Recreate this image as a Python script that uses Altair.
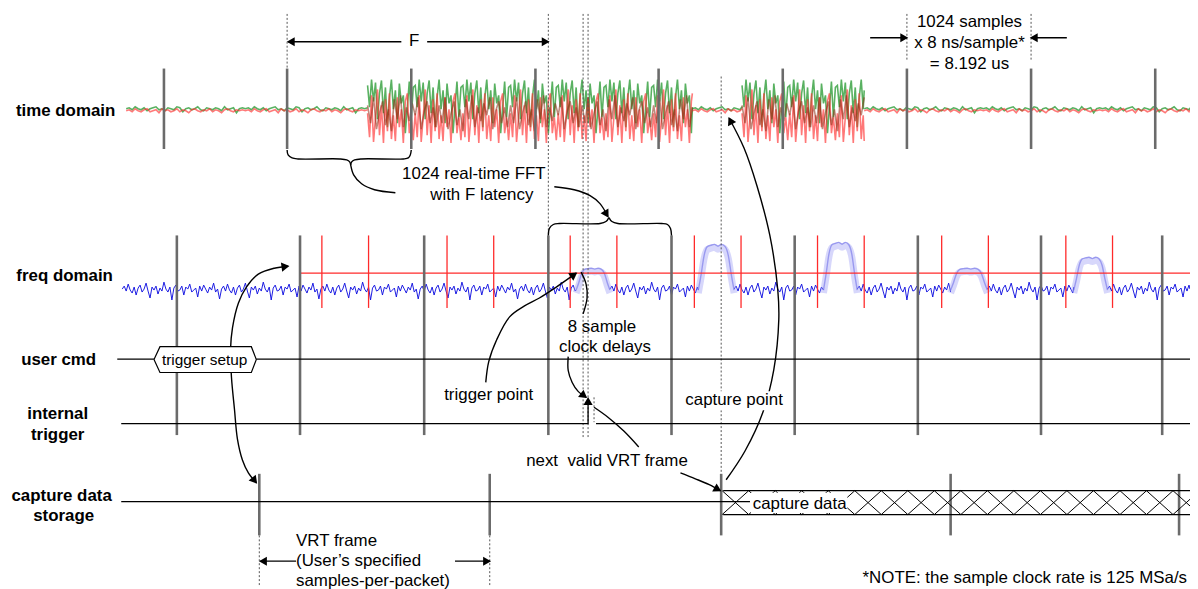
import math
import altair as alt
import pandas as pd

# ---------------- data (pixel coordinates of the diagram) ----------------
row_labels = ["time domain", "freq domain", "user cmd", "internal", "trigger", "capture data", "storage"]
row_label_x = [66, 65, 59, 58, 58, 62, 64]
row_label_y = [110, 276, 360, 415, 436, 497, 518]

time_bar_x = [165, 289, 414, 539, 663, 788, 913, 1038, 1163]
time_bar_y = [67, 148]
freq_bar_x = [178, 302, 427, 552, 676, 800, 924, 1048, 1170]
freq_bar_y = [235, 436]
store_bar_x = [261, 493, 726, 957, 1187]
store_bar_y = [475, 537]
red_tick_x = [324, 371, 450, 497, 574, 621, 699, 746, 823, 870, 948, 995, 1073, 1120]
red_tick_y = [235, 308]
threshold_x = [302, 1198]
threshold_y = 273

time_base_y = 108
time_quiet_x0 = [127, 697, 870]
time_quiet_x1 = [370, 747, 1198]
time_burst_x0 = [370, 747]
time_burst_x1 = [697, 870]
green_noise = [0, -1, 1, -2, 0, 1, -1, 2, 0, -1, -2, 1, 0, 2, -1, 0, 1, -2, -1, 3,
               0, -1, 1, 0, -2, 1, 2, -1, 0, 1, -1, 0, 2, -2, 1, 0, -1, 4, 0, -1]
red_noise = [1, 0, 2, -1, 1, 2, 0, -1, 2, 1, 0, 3, -1, 1, 0, 2, 1, -1, 2, 0,
             1, 3, 0, -1, 1, 2, 0, 1, -1, 2, 0, 1, 3, 0, -1, 1, 2, 0, 1, 0]
green_burst = [-24, -2, -30, -8, -27, 10, -16, -29, 4, -22, 18, -12, -30, 0, -19, 14,
               -26, -6, -14, 24, -2, -28, 8, -22]
red_burst = [4, 28, -14, 33, 8, -20, 26, -4, 34, -10, 22, -16, 30, 6, 32, -12,
             18, 0, 34, -8, -16, 24, 8, 31]
brown_burst = [-6, 12, -14, 18, 2, -10, 14, -2, 20, -12, 8, -16, 16, -4, 10, -8,
               4, -14, 18, 0, -10, 12, -4, 16]

freq_base_y = 289
blue_seg_x0 = [123, 614, 739, 863, 994, 1115]
blue_seg_x1 = [580, 703, 829, 957, 1081, 1198]
blue_noise = [0, -3, 2, -5, 1, 4, -2, 6, -1, -4, 3, 0, -6, 2, 9, -2, 1, -3, 5, -1,
              2, -7, 0, 3, -2, 11, -1, -4, 2, 1, -3, 6, -2, 0, -5, 3, 1, -1, 8, -3,
              2, -4, 0, 4, -2, 1, -6, 3, 0, 10]
hump_x0 = [580, 703, 829, 957, 1081]
hump_x1 = [614, 739, 863, 994, 1115]
hump_top = [267, 243, 241, 267, 256]
hump_t = [0, 0.08, 0.16, 0.25, 0.35, 0.45, 0.55, 0.65, 0.75, 0.84, 0.92, 1]
hump_h = [0, 0.35, 0.75, 0.95, 0.98, 1, 0.96, 1, 0.95, 0.75, 0.35, 0]

user_cmd_y = 359.5
trig_y = 424.5
store_y = 503
hatch_top, hatch_bot = 492, 516
hatch_x0, hatch_x1, hatch_period = 727, 1198, 26.7

hexagon = [(155, 360), (161, 347), (253, 347), (258, 360), (253, 373), (161, 373), (155, 360)]

straight_lines = [
    [(118, user_cmd_y), (155, user_cmd_y)],
    [(258, user_cmd_y), (1198, user_cmd_y)],
    [(122, trig_y), (592, trig_y), (592, 405)],
    [(600, trig_y), (1198, trig_y)],
    [(122, store_y), (755, store_y)],
    [(728, hatch_top), (1198, hatch_top)],
    [(728, hatch_bot), (1198, hatch_bot)],
    [(290, 40), (404, 40)],
    [(430, 40), (552, 40)],
    [(876, 36), (913, 36)],
    [(1074, 36), (1038, 36)],
    [(298, 563), (262, 563)],
    [(458, 563), (493, 563)],
]

curves = [
    [(290, 266), (276, 268), (260, 274), (248, 287), (240, 303), (234, 328), (232, 350),
     (233, 378), (236, 410), (239, 440), (244, 461), (250, 474), (258, 484)],
    [(289, 149), (290, 154), (294, 157), (300, 158), (342, 158), (349, 159), (352, 161), (353, 164)],
    [(353, 164), (354, 161), (357, 159), (364, 158), (406, 158), (411, 157), (413, 154), (414, 149)],
    [(353, 164), (356, 174), (364, 183), (377, 189), (398, 192)],
    [(552, 235), (553, 228), (557, 224), (563, 223), (604, 223), (610, 221), (613, 217)],
    [(613, 217), (616, 221), (622, 223), (666, 223), (672, 224), (675, 228), (676, 235)],
    [(558, 186), (578, 189), (594, 195), (604, 203), (612, 216)],
    [(489, 383), (492, 362), (500, 340), (513, 317), (528, 306), (543, 298), (560, 287), (580, 273)],
    [(585, 272), (590, 284), (591, 298), (587, 314)],
    [(572, 357), (572, 371), (576, 383), (582, 392), (590, 398)],
    [(598, 408), (612, 418), (628, 432), (643, 448)],
    [(685, 474), (700, 480), (714, 486), (725, 492)],
    [(731, 481), (750, 452), (768, 413), (779, 370), (784, 320), (783, 290), (775, 235),
     (762, 185), (749, 147), (734, 117)],
]

# arrow tips and the point each arrow comes from
arrow_tip = [(290, 266), (258, 484), (612, 216), (580, 273), (590, 398), (592, 399), (725, 492),
             (734, 117), (290, 40), (552, 40), (913, 36), (1038, 36), (262, 563), (493, 563)]
arrow_from = [(276, 268), (250, 474), (604, 203), (560, 287), (582, 392), (592, 410), (714, 486),
              (749, 147), (300, 40), (540, 40), (900, 36), (1050, 36), (275, 563), (480, 563)]

dotted = [(289, 12, 66), (552, 12, 235), (587, 12, 438), (592, 12, 438), (726, 75, 475),
          (913, 12, 60), (1038, 12, 60), (261, 537, 589), (493, 537, 589), (598, 398, 423)]

center_texts = ["F", "1024 samples", "x 8 ns/sample*", "= 8.192 us", "1024 real-time FFT",
                "with F latency", "8 sample", "clock delays", "trigger point", "capture point",
                "next\u00a0 valid VRT frame", "capture data"]
center_x = [417, 976, 976, 976, 477, 485, 606, 609, 492, 739, 611, 805]
center_y = [39, 20, 41, 62, 173, 194, 327, 347, 396, 401, 462, 505]
left_texts = ["VRT frame", "(User\u2019s specified", "samples-per-packet)"]
left_x = [298, 298, 298]
left_y = [543, 563, 583]
note_text = "*NOTE: the sample clock rate is 125 MSa/s"
note_xy = (1195, 580)
box_text = "trigger setup"
box_xy = (206, 360)

# ---------------- helpers ----------------
XS = alt.Scale(domain=[8, 1198], nice=False, zero=False)
YS = alt.Scale(domain=[8, 589], nice=False, zero=False, reverse=True)


def ex(f):
    return alt.X(f"{f}:Q", scale=XS, axis=None)


def ey(f):
    return alt.Y(f"{f}:Q", scale=YS, axis=None)


def tile(x0, x1, step, pattern, base):
    pts = []
    x, i = x0, 0
    while x < x1:
        pts.append((x, base + pattern[i % len(pattern)]))
        x += step
        i += 1
    pts.append((x1, base + pattern[i % len(pattern)]))
    return pts


def lines_df(polys):
    rows = []
    for g, poly in enumerate(polys):
        for o, (a, b) in enumerate(poly):
            rows.append({"g": g, "o": o, "x": a, "y": b})
    return pd.DataFrame(rows)


def line_layer(polys, color, width, opacity=1.0, interp="linear", dash=None):
    kw = dict(color=color, strokeWidth=width, opacity=opacity, interpolate=interp)
    if dash:
        kw["strokeDash"] = dash
    return alt.Chart(lines_df(polys)).mark_line(**kw).encode(
        x=ex("x"), y=ey("y"), detail="g:N", order="o:Q")


def rule_layer(segs, color, width, dash=None, opacity=1.0):
    df = pd.DataFrame(segs, columns=["x", "y", "x2", "y2"])
    kw = dict(color=color, strokeWidth=width, opacity=opacity)
    if dash:
        kw["strokeDash"] = dash
    return alt.Chart(df).mark_rule(**kw).encode(
        x=ex("x"), y=ey("y"), x2=alt.X2("x2"), y2=alt.Y2("y2"))


def text_layer(texts, xs, ys, align, size=17, weight="normal"):
    df = pd.DataFrame({"t": texts, "x": xs, "y": ys})
    return alt.Chart(df).mark_text(align=align, baseline="middle", font="Liberation Sans",
                                   fontSize=size, fontWeight=weight, color="#000").encode(
        x=ex("x"), y=ey("y"), text="t:N")


layers = []

# time-domain signal
green_polys, red_polys, brown_polys = [], [], []
for a, b in zip(time_quiet_x0, time_quiet_x1):
    green_polys.append(tile(a, b, 3, green_noise, time_base_y - 0.5))
    red_polys.append(tile(a, b, 3, red_noise, time_base_y + 0.5))
for a, b in zip(time_burst_x0, time_burst_x1):
    green_polys.append(tile(a, b, 2, green_burst, time_base_y))
    red_polys.append(tile(a, b, 2, red_burst, time_base_y))
    brown_polys.append(tile(a, b, 3, brown_burst, time_base_y + 2))
layers.append(line_layer(green_polys, "#2f9e3a", 1.6, 0.8))
layers.append(line_layer(red_polys, "#ff3030", 1.6, 0.65))
layers.append(line_layer(brown_polys, "#8a2a10", 1.6, 0.55))

# frequency-domain trace
blue_polys = [tile(a, b, 2, blue_noise, freq_base_y) for a, b in zip(blue_seg_x0, blue_seg_x1)]
layers.append(line_layer(blue_polys, "#1010e0", 1.0, 0.95))
hump_polys, hump_edge = [], []
for a, b, top in zip(hump_x0, hump_x1, hump_top):
    hump_polys.append([(a + t * (b - a), freq_base_y - h * (freq_base_y - top) + 4)
                       for t, h in zip(hump_t, hump_h)])
    hump_edge.append([(a + t * (b - a), freq_base_y - h * (freq_base_y - top) + 1)
                      for t, h in zip(hump_t, hump_h)])
layers.append(line_layer(hump_polys, "#9a9af4", 7, 0.4, "monotone"))
layers.append(line_layer(hump_edge, "#7070e8", 1.4, 0.6, "monotone"))

# red threshold + red ticks
layers.append(rule_layer([(threshold_x[0], threshold_y, threshold_x[1], threshold_y)], "#ff2a2a", 1.3))
layers.append(rule_layer([(x, red_tick_y[0], x, red_tick_y[1]) for x in red_tick_x], "#ff2a2a", 1.3))

# dotted markers
layers.append(rule_layer([(x, a, x, b) for x, a, b in dotted], "#555555", 1.0, dash=[2, 2]))

# gray frame bars
bars = [(x, time_bar_y[0], x, time_bar_y[1]) for x in time_bar_x]
bars += [(x, freq_bar_y[0], x, freq_bar_y[1]) for x in freq_bar_x]
bars += [(x, store_bar_y[0], x, store_bar_y[1]) for x in store_bar_x]
layers.append(rule_layer(bars, "#6b6b6b", 2.6))

# straight black lines
layers.append(line_layer(straight_lines, "#000000", 1.3))

# hatch of captured data
hatch = []
k = 0
while hatch_x0 + k * hatch_period < hatch_x1:
    xa = hatch_x0 + k * hatch_period
    hatch.append((xa, hatch_top, xa + hatch_period, hatch_bot))
    hatch.append((xa + hatch_period, hatch_top, xa, hatch_bot))
    k += 1
layers.append(rule_layer(hatch, "#000000", 1.0))

# curved arrows / braces
layers.append(line_layer(curves, "#000000", 1.4, 1.0, "catmull-rom"))

# white backgrounds
hex_df = pd.DataFrame({"x": [155, 161, 253, 258], "y": [360, 347, 347, 360], "y2": [360, 373, 373, 360]})
layers.append(alt.Chart(hex_df).mark_area(color="white", opacity=1).encode(
    x=ex("x"), y=ey("y"), y2=alt.Y2("y2")))
rects = pd.DataFrame({"x": [756, 688], "x2": [853, 790], "y": [494, 392], "y2": [514.5, 411]})
layers.append(alt.Chart(rects).mark_rect(color="white", opacity=1).encode(
    x=ex("x"), x2=alt.X2("x2"), y=ey("y"), y2=alt.Y2("y2")))
layers.append(line_layer([hexagon], "#000000", 1.2))

# arrow heads
SIZE = 85
h = math.sqrt(3) * (math.sqrt(SIZE) / 2) / 2
heads = []
for (tx, ty), (fx, fy) in zip(arrow_tip, arrow_from):
    dx, dy = tx - fx, ty - fy
    n = math.hypot(dx, dy)
    ux, uy = dx / n, dy / n
    ang = math.degrees(math.atan2(dx, -dy)) % 360
    heads.append({"x": tx - ux * h, "y": ty - uy * h, "a": ang})
layers.append(alt.Chart(pd.DataFrame(heads)).mark_point(
    shape="triangle", filled=True, size=SIZE, color="#000000", opacity=1, strokeWidth=0).encode(
    x=ex("x"), y=ey("y"), angle=alt.Angle("a:Q", scale=None)))

# texts
layers.append(text_layer(row_labels, row_label_x, row_label_y, "center", 17, "bold"))
layers.append(text_layer(center_texts, center_x, center_y, "center", 17))
layers.append(text_layer([box_text], [box_xy[0]], [box_xy[1]], "center", 15.5))
layers.append(text_layer(left_texts, left_x, left_y, "left", 17))
layers.append(text_layer([note_text], [note_xy[0]], [note_xy[1]], "right", 17))

chart = alt.layer(*layers).properties(
    width=1190, height=581,
    autosize=alt.AutoSizeParams(type="none"),
    padding=0, background="white",
).configure_view(stroke=None)

chart.save("out.html", embed_options={"renderer": "svg", "actions": False})
